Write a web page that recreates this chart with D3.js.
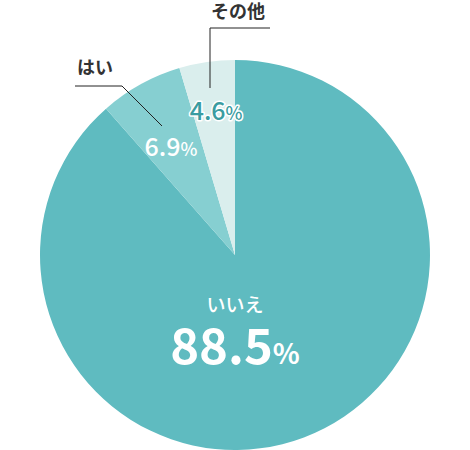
<!DOCTYPE html>
<html>
<head>
<meta charset="utf-8">
<script src="https://cdn.jsdelivr.net/npm/d3@7"></script>
<style>
  body { margin: 0; background: #fff; }
  svg { display: block; font-family: "Noto Sans CJK JP", "Noto Sans", sans-serif; }
</style>
</head>
<body>
<svg id="chart" width="470" height="450"></svg>
<script>
var labels = ['いいえ', 'はい', 'その他'];
var values = [88.5, 6.9, 4.6];
var colors = ['#5fbbc0', '#86cfd1', '#daeeed'];

var svg = d3.select('#chart');
var cx = 235, cy = 255, radius = 195;

// slices start at 12 o'clock and run clockwise
var pie = d3.pie().sort(null).value(function(d) { return d; });
var arcs = pie(values);
var arc = d3.arc().innerRadius(0).outerRadius(radius);

var g = svg.append('g').attr('transform', 'translate(' + cx + ',' + cy + ')');

g.selectAll('path')
  .data(arcs)
  .enter().append('path')
  .attr('d', arc)
  .attr('fill', function(d, i) { return colors[i]; });

function pctText(sel, i, big, small) {
  sel.append('tspan').attr('font-size', big).text(d3.format('.1f')(values[i]));
  sel.append('tspan').attr('font-size', small).text('%');
}

// いいえ big label
g.append('text')
  .attr('x', 0).attr('y', 57)
  .attr('text-anchor', 'middle')
  .attr('fill', '#fff').attr('font-size', 19).attr('font-weight', 500)
  .text(labels[0]);
var main = g.append('text')
  .attr('x', 0).attr('y', 109)
  .attr('text-anchor', 'middle')
  .attr('fill', '#fff').attr('font-weight', 700);
pctText(main, 0, 49, 28);

// はい value
var r1 = d3.arc().innerRadius(radius * 0.636).outerRadius(radius * 0.636);
var p1 = r1.centroid(arcs[1]);
var t1 = g.append('text')
  .attr('x', p1[0] - 4).attr('y', p1[1] + 9)
  .attr('text-anchor', 'middle')
  .attr('fill', '#fff').attr('font-weight', 500);
pctText(t1, 1, 25, 18);

// その他 value
var r2 = d3.arc().innerRadius(radius * 0.745).outerRadius(radius * 0.745);
var p2 = r2.centroid(arcs[2]);
var t2 = g.append('text')
  .attr('x', p2[0] + 2).attr('y', p2[1] + 9)
  .attr('text-anchor', 'middle')
  .attr('fill', '#3a9ca1').attr('font-weight', 500)
  .attr('stroke', '#fff').attr('stroke-width', 3).attr('paint-order', 'stroke')
  .attr('stroke-linejoin', 'round');
pctText(t2, 2, 25, 18);

// leader lines and category labels (outside)
var lineColor = '#222';
svg.append('polyline')
  .attr('points', '75,86 122,86 162,126')
  .attr('fill', 'none').attr('stroke', lineColor).attr('stroke-width', 1);
svg.append('text')
  .attr('x', 77).attr('y', 74)
  .attr('fill', '#333').attr('font-size', 18).attr('font-weight', 700)
  .text(labels[1]);

svg.append('polyline')
  .attr('points', '270,28 210,28 210,88')
  .attr('fill', 'none').attr('stroke', lineColor).attr('stroke-width', 1);
svg.append('text')
  .attr('x', 211).attr('y', 18)
  .attr('fill', '#333').attr('font-size', 18).attr('font-weight', 700)
  .text(labels[2]);
</script>
</body>
</html>
